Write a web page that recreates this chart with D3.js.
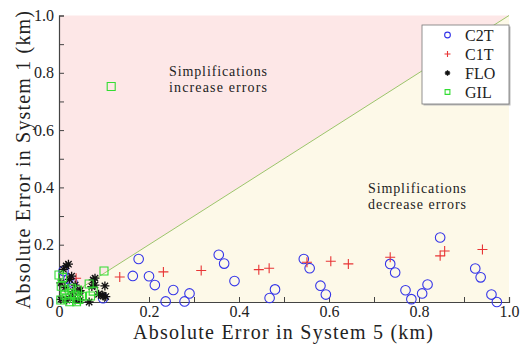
<!DOCTYPE html>
<html>
<head>
<meta charset="utf-8">
<script src="https://cdn.jsdelivr.net/npm/d3@7"></script>
<style>
  body { margin: 0; background: #fff; }
  text { font-family: "Liberation Serif", "Times New Roman", serif; fill: #222; }
</style>
</head>
<body>
<svg width="523" height="347"></svg>
<script>
const SVG_WIDTH = 523;
const SVG_HEIGHT = 347;
const LEFT = 59, RIGHT = 509, TOP = 15.5, BOTTOM = 302;

// series values: [System 5 error, System 1 error] in km
const c2t = [
  [0.010, 0.108], [0.021, 0.080], [0.030, 0.068], [0.098, 0.013],
  [0.164, 0.091], [0.177, 0.150], [0.200, 0.090], [0.213, 0.059],
  [0.237, 0.002], [0.254, 0.042], [0.279, 0.002], [0.290, 0.030],
  [0.355, 0.165], [0.367, 0.134], [0.390, 0.073], [0.468, 0.014],
  [0.480, 0.044], [0.544, 0.150], [0.557, 0.118], [0.581, 0.057],
  [0.593, 0.026], [0.736, 0.133], [0.747, 0.103], [0.770, 0.041],
  [0.783, 0.010], [0.807, 0.030], [0.819, 0.061], [0.847, 0.225],
  [0.925, 0.117], [0.937, 0.086], [0.961, 0.026], [0.973, 0.000]
];
const c1t = [
  [0.038, 0.083], [0.135, 0.087], [0.232, 0.105], [0.316, 0.110],
  [0.444, 0.113], [0.467, 0.118], [0.551, 0.139], [0.604, 0.142],
  [0.643, 0.133], [0.736, 0.156], [0.847, 0.161], [0.857, 0.178],
  [0.941, 0.183]
];
const flo = [
  [0.004, 0.009], [0.017, 0.007], [0.026, 0.019], [0.036, 0.007],
  [0.047, 0.007], [0.016, 0.126], [0.021, 0.132], [0.010, 0.114],
  [0.004, 0.067], [0.023, 0.079], [0.036, 0.059], [0.045, 0.036],
  [0.032, 0.036], [0.067, 0.000], [0.073, 0.054], [0.080, 0.059],
  [0.076, 0.077], [0.080, 0.083], [0.088, 0.027], [0.096, 0.024],
  [0.102, 0.056], [0.098, 0.021], [0.104, 0.019], [0.047, 0.040],
  [0.028, 0.090], [0.013, 0.050]
];
const gil = [
  [0.116, 0.752], [0.100, 0.108], [0.067, 0.063], [0.076, 0.038],
  [0.070, 0.021], [0.000, 0.094], [0.008, 0.086], [0.013, 0.042],
  [0.024, 0.030], [0.036, 0.024], [0.044, 0.009], [0.024, 0.001],
  [0.004, 0.007], [0.017, 0.013], [0.039, 0.001], [0.028, 0.048],
  [0.041, 0.042], [0.013, 0.024], [0.050, 0.020], [0.005, 0.055]
];
const seriesNames = ["C2T", "C1T", "FLO", "GIL"];
const xTicks = [0, 0.2, 0.4, 0.6, 0.8, 1.0];
const yTicks = [0, 0.2, 0.4, 0.6, 0.8, 1.0];
const minorTicks = [0.1, 0.3, 0.5, 0.7, 0.9];

var svg = d3.select("svg");
var x = d3.scaleLinear().domain([0, 1]).range([LEFT, RIGHT]);
var y = d3.scaleLinear().domain([0, 1]).range([BOTTOM, TOP]);

function tickFormat(d) {
  return d === 0 ? "0" : d3.format(".1f")(d);
}

// shaded regions
svg.append("path")
  .attr("d", d3.line()([[x(0), y(0)], [x(0), y(1)], [x(1), y(1)]]))
  .attr("fill", "#fde7e7");
svg.append("path")
  .attr("d", d3.line()([[x(0), y(0)], [x(1), y(0)], [x(1), y(1)]]))
  .attr("fill", "#fdf9e8");
svg.append("line")
  .attr("x1", x(0)).attr("y1", y(0))
  .attr("x2", x(1)).attr("y2", y(1))
  .attr("stroke", "#9cc46a").attr("stroke-width", 1);

// axes
var xAxis = d3.axisBottom(x).tickValues(xTicks.concat(minorTicks))
  .tickSize(-5).tickPadding(4)
  .tickFormat((d) => (xTicks.includes(d) ? tickFormat(d) : ""));
var yAxis = d3.axisLeft(y).tickValues(yTicks.concat(minorTicks))
  .tickSize(-5).tickPadding(5)
  .tickFormat((d) => (yTicks.includes(d) ? tickFormat(d) : ""));

svg.append("g").attr("transform", "translate(0," + BOTTOM + ")").call(xAxis)
  .attr("font-family", "Liberation Serif, serif").attr("font-size", 16);
svg.append("g").attr("transform", "translate(" + LEFT + ",0)").call(yAxis)
  .attr("font-family", "Liberation Serif, serif").attr("font-size", 16);
svg.selectAll(".domain").attr("stroke", "#444").attr("stroke-width", 1.2);
svg.selectAll(".tick line").attr("stroke", "#444");
svg.selectAll(".tick text").attr("fill", "#222");

// annotations
function twoLines(cx, cy, lines) {
  lines.forEach((s, i) => {
    svg.append("text")
      .attr("text-anchor", "middle")
      .attr("x", cx).attr("y", cy + i * 16)
      .attr("textLength", 98).attr("lengthAdjust", "spacing")
      .style("font-size", "14px")
      .text(s);
  });
}
twoLines(218, 76, ["Simplifications", "increase errors"]);
twoLines(417, 193, ["Simplifications", "decrease errors"]);

// markers
function asterisk(s) {
  var p = "";
  for (var k = 0; k < 4; k++) {
    var a = (k * Math.PI) / 4;
    var dx = Math.cos(a) * s, dy = Math.sin(a) * s;
    p += "M" + (-dx) + "," + (-dy) + "L" + dx + "," + dy;
  }
  return p;
}
var markers = {
  C2T: { path: d3.symbol(d3.symbolCircle, 72)(), fill: "none", stroke: "#3535e8", width: 1.1 },
  C1T: { path: "M-5,0L5,0M0,-5L0,5", fill: "none", stroke: "#e83535", width: 1.1 },
  FLO: { path: asterisk(4.5), fill: "none", stroke: "#111", width: 1.3 },
  GIL: { path: "M-4,-4H4V4H-4Z", fill: "none", stroke: "#33dd33", width: 1.1 }
};
var data = { C2T: c2t, C1T: c1t, FLO: flo, GIL: gil };

seriesNames.forEach((name) => {
  var m = markers[name];
  svg.append("g").selectAll("path")
    .data(data[name])
    .enter()
    .append("path")
    .attr("transform", (d) => "translate(" + x(d[0]) + "," + y(d[1]) + ")")
    .attr("d", m.path)
    .attr("fill", m.fill)
    .attr("stroke", m.stroke)
    .attr("stroke-width", m.width);
});

// legend
var legend = svg.append("g").attr("transform", "translate(422,25)");
legend.append("rect")
  .attr("x", 1.5).attr("y", 1.5).attr("width", 87).attr("height", 79)
  .attr("fill", "#bbb");
legend.append("rect")
  .attr("width", 87).attr("height", 79)
  .attr("fill", "#fff").attr("stroke", "#777").attr("stroke-width", 0.8);
seriesNames.forEach((name, i) => {
  var m = markers[name];
  var row = legend.append("g").attr("transform", "translate(0," + (10 + i * 19) + ")");
  row.append("path")
    .attr("transform", "translate(25.5,0) scale(0.6)")
    .attr("d", m.path).attr("fill", m.fill)
    .attr("stroke", m.stroke).attr("stroke-width", m.width / 0.6);
  row.append("text").attr("x", 43).attr("y", 5.5).style("font-size", "16px").text(name);
});

// axis labels
svg.append("text")
  .attr("text-anchor", "middle")
  .attr("transform", "translate(283,339)")
  .attr("textLength", 300).attr("lengthAdjust", "spacing")
  .style("font-size", "20px")
  .text("Absolute Error in System 5 (km)");
svg.append("text")
  .attr("text-anchor", "middle")
  .attr("transform", "translate(30,160) rotate(-90)")
  .attr("textLength", 298).attr("lengthAdjust", "spacing")
  .style("font-size", "20px")
  .text("Absolute Error in System 1 (km)");
</script>
</body>
</html>
